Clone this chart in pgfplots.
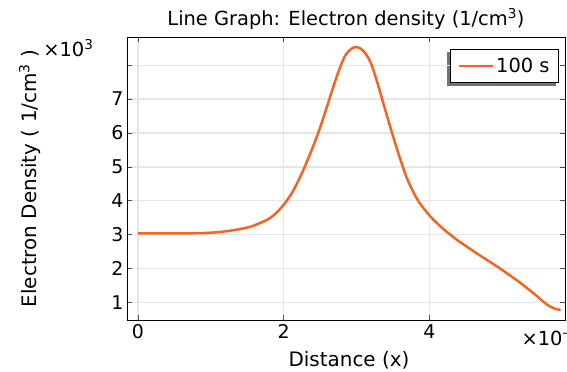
\documentclass[border=0pt]{standalone}
\usepackage{fontspec}
\setmainfont{DejaVu Sans}
\usepackage{pgfplots}
\pgfplotsset{compat=1.18}
\definecolor{lineor}{RGB}{242,101,34}
\definecolor{gridg}{RGB}{230,230,230}
\pgfdeclarelayer{shadowl}
\pgfsetlayers{shadowl,main}
\begin{document}
\begin{tikzpicture}[x=1bp,y=1bp]
\begin{axis}[
  at={(0,0)}, anchor=south west,
  scale only axis, width=438bp, height=283bp,
  xmin=-0.15, xmax=5.86, ymin=0.49, ymax=8.83,
  xtick={0,2,4}, ytick={1,2,3,4,5,6,7,8},
  yticklabels={1,2,3,4,5,6,7,{}},
  grid=major, major grid style={gridg, line width=1.2bp},
  axis line style={black, line width=0.8bp},
  tick align=inside, major tick length=5bp,
  tick style={black!70, line width=0.8bp},
  /pgf/number format/assume math mode=true,
  ticklabel style={font=\fontsize{19}{22}\selectfont},
  xticklabel style={yshift=-1bp},
  legend style={name=leg, at={(1,1)}, anchor=north east, xshift=-6bp, yshift=-12bp,
    font=\fontsize{19.5}{22}\selectfont, draw=black, fill=white, line width=0.8bp,
    inner xsep=7bp, inner ysep=6.5bp},
  legend image code/.code={%
    \pgfpathmoveto{\pgfqpoint{0bp}{0bp}}%
    \pgfpathlineto{\pgfqpoint{34bp}{0bp}}%
    \pgfsetlinewidth{2.5bp}\pgfsetstrokecolor{lineor}\pgfusepath{stroke}},
]
\addplot[lineor, line width=2.5bp, smooth] coordinates {
(0,3.04) (0.5,3.04) (0.85,3.05) (1.05,3.07) (1.26,3.12) (1.53,3.23) (1.76,3.43)
(1.88,3.61) (1.99,3.86) (2.06,4.06) (2.13,4.30) (2.24,4.77) (2.36,5.37) (2.47,5.98) (2.57,6.62)
(2.66,7.22) (2.75,7.80) (2.84,8.27) (2.90,8.43) (2.96,8.52) (3.01,8.53) (3.06,8.48) (3.12,8.35)
(3.20,8.04) (3.29,7.45) (3.38,6.78) (3.48,6.05) (3.59,5.29) (3.70,4.62)
(3.84,4.02) (4.0,3.57) (4.16,3.23) (4.30,2.98) (4.41,2.80) (4.68,2.41)
(4.96,2.02) (5.23,1.61) (5.46,1.22) (5.55,1.05) (5.63,0.92) (5.70,0.84) (5.76,0.80) (5.80,0.79)};
\addlegendentry{100 s}
\end{axis}
\begin{pgfonlayer}{shadowl}
\fill[black!55] ([shift={(-3bp,-3bp)}]leg.south west) rectangle ([shift={(-3bp,-3bp)}]leg.north east);
\end{pgfonlayer}
\node[anchor=base, font=\fontsize{19.5}{22}\selectfont] at (219bp,294bp) {Line Graph: Electron density (1/cm\textsuperscript{3})};
\node[anchor=center, rotate=90, font=\fontsize{20}{23}\selectfont] at (-97bp,141.5bp) {Electron Density ( 1/cm\textsuperscript{3} )};
\node[anchor=base east, font=\fontsize{19.5}{22}\selectfont] at (-30bp,263bp) {×10\textsuperscript{3}};
\node[anchor=base, font=\fontsize{20}{23}\selectfont] at (222bp,-46bp) {Distance (x)};
\node[overlay, anchor=base west, font=\fontsize{19.5}{22}\selectfont] at (391bp,-25bp) {×10\textsuperscript{-3}};
\pgfresetboundingbox
\useasboundingbox (-127bp,-52bp) rectangle (440bp,320bp);
\end{tikzpicture}
\end{document}
